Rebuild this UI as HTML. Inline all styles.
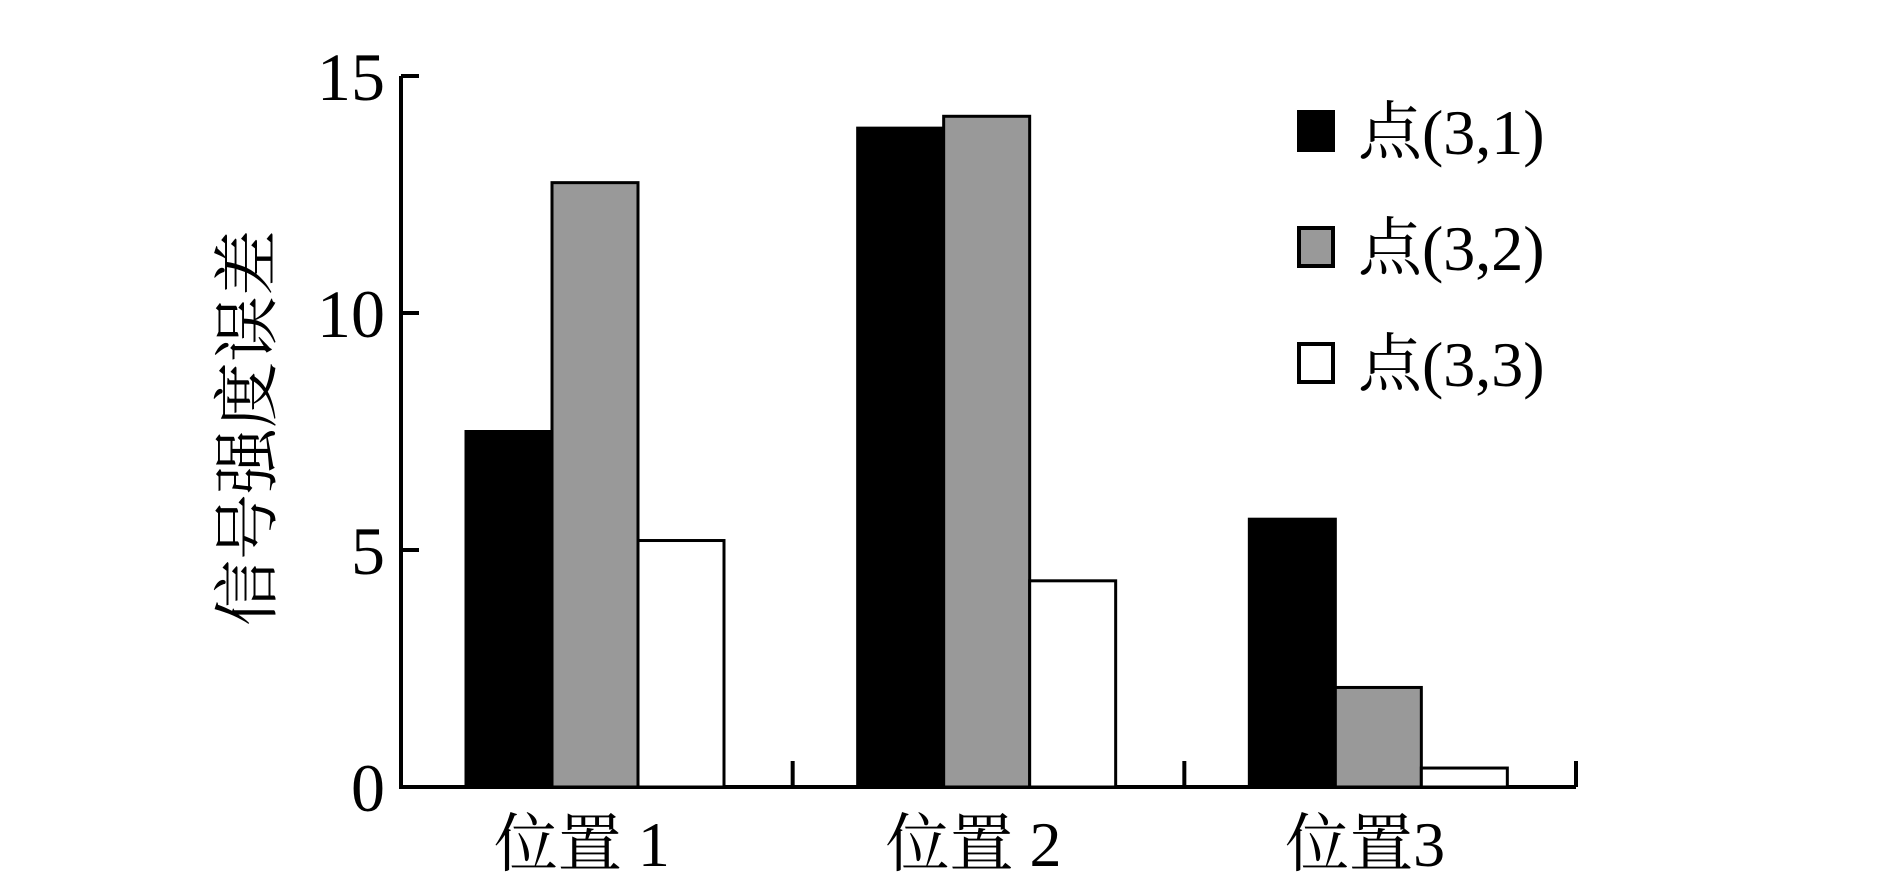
<!DOCTYPE html>
<html><head><meta charset="utf-8"><style>
body{margin:0;background:#fff;}
svg text{font-family:"Liberation Serif","Noto Serif CJK SC",serif;fill:#000;}
</style></head><body>
<svg id="chart" width="1889" height="872" viewBox="0 0 1889 872" xmlns="http://www.w3.org/2000/svg">
<g id="axes"></g><g id="bars"></g><g id="legend"></g>
<text transform="translate(270,428) rotate(-90)" font-size="66" text-anchor="middle">信号强度误差</text>
</svg>
<script>
const categories = ["位置 1", "位置 2", "位置3"];
const seriesNames = ["点(3,1)", "点(3,2)", "点(3,3)"];
const s1 = [7.5, 13.9, 5.65];
const s2 = [12.75, 14.15, 2.1];
const s3 = [5.2, 4.35, 0.4];
const yTicks = [0, 5, 10, 15];
const fills = ["#000", "#999", "#fff"];
const NS = "http://www.w3.org/2000/svg";
const x0 = 401, x1 = 1576, y0 = 787, y15 = 76;
const groupW = (x1 - x0) / categories.length;
const barW = 86, offset = 65;
function yS(v){ return y0 - (v / 15) * (y0 - y15); }
function xS(g, s){ return x0 + g * groupW + offset + s * barW; }
function mk(tag, attrs, parent){ const e = document.createElementNS(NS, tag); for (const k in attrs) e.setAttribute(k, attrs[k]); parent.appendChild(e); return e; }
const axes = document.getElementById('axes'), bars = document.getElementById('bars'), legend = document.getElementById('legend');
const series = [s1, s2, s3];
series.forEach((arr, s) => arr.forEach((v, g) => {
  const r = mk('rect', {x: xS(g, s), y: yS(v), width: barW, height: y0 - yS(v), fill: fills[s], stroke: '#000', 'stroke-width': 3}, bars);
  
  
}));
const ya = mk('line', {x1: x0, y1: y0, x2: x0, y2: y15, stroke: '#000', 'stroke-width': 4}, axes);


const xa = mk('line', {x1: x0 - 2, y1: y0, x2: x1, y2: y0, stroke: '#000', 'stroke-width': 4}, axes);


yTicks.forEach(t => {
  mk('line', {x1: x0, y1: yS(t), x2: x0 + 18, y2: yS(t), stroke: '#000', 'stroke-width': 4}, axes);
  const tx = mk('text', {x: 385, y: yS(t) + 24, 'font-size': 68, 'text-anchor': 'end'}, axes);
  tx.textContent = t;
  
  
});
for (let g = 1; g <= categories.length; g++) {
  mk('line', {x1: x0 + g * groupW, y1: y0, x2: x0 + g * groupW, y2: y0 - 26, stroke: '#000', 'stroke-width': 4}, axes);
}
categories.forEach((c, g) => {
  const tx = mk('text', {x: x0 + g * groupW + groupW / 2 - 15, y: 866, 'font-size': 64, 'text-anchor': 'middle'}, axes);
  tx.textContent = c;
  
  
});
seriesNames.forEach((n, i) => {
  const cy = 131 + i * 116;
  const r = mk('rect', {x: 1299, y: cy - 19, width: 34, height: 38, fill: fills[i], stroke: '#000', 'stroke-width': 4}, legend);
  
  
  const t = mk('text', {x: 1358, y: cy + 23, 'font-size': 64}, legend);
  t.textContent = n;
  
  
});
</script>
</body></html>
